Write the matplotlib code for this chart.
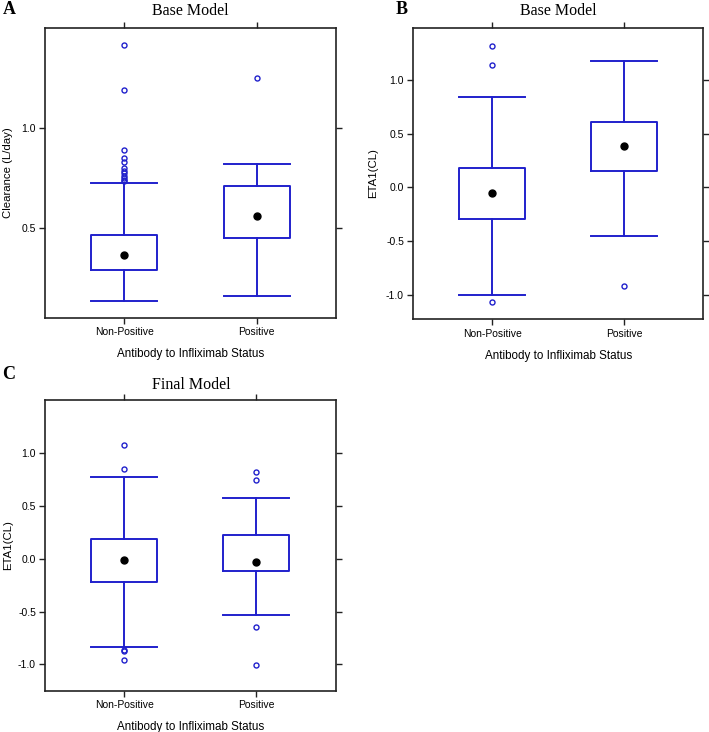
import matplotlib
matplotlib.use("Agg")
import matplotlib.pyplot as plt

W, H = 709, 732
categories = ["Non-Positive", "Positive"]

# Panel A: Clearance (L/day), base model
a_q1 = [0.285, 0.448]
a_q3 = [0.463, 0.707]
a_wlo = [0.133, 0.157]
a_whi = [0.724, 0.819]
a_mean = [0.363, 0.559]
a_fliers = [[1.417, 1.189, 0.891, 0.848, 0.83, 0.80, 0.785, 0.775, 0.76, 0.75, 0.74, 0.733],
            [1.251]]

# Panel B: ETA1(CL), base model
b_q1 = [-0.296, 0.155]
b_q3 = [0.183, 0.611]
b_wlo = [-1.0, -0.45]
b_whi = [0.84, 1.176]
b_mean = [-0.052, 0.382]
b_fliers = [[1.31, 1.133, -1.06], [-0.914]]

# Panel C: ETA1(CL), final model
c_q1 = [-0.222, -0.12]
c_q3 = [0.183, 0.224]
c_wlo = [-0.832, -0.532]
c_whi = [0.77, 0.572]
c_mean = [-0.009, -0.035]
c_fliers = [[1.073, 0.849, -0.86, -0.875, -0.957], [0.823, 0.744, -0.647, -1.009]]

BLUE = "#2020cc"
SANS = ["Liberation Sans", "DejaVu Sans"]
SERIF = ["Liberation Serif", "DejaVu Serif"]

fig = plt.figure(figsize=(W / 100, H / 100), dpi=100)


def add_axes_px(left, top, right, bottom):
    return fig.add_axes([left / W, 1 - bottom / H, (right - left) / W, (bottom - top) / H])


def panel(ax, q1, q3, wlo, whi, mean, fliers, ylim, yticks, ylabel, ylab_x_px, left_px, width_px):
    stats = []
    for i in range(len(categories)):
        stats.append(dict(med=mean[i], q1=q1[i], q3=q3[i], whislo=wlo[i], whishi=whi[i],
                          mean=mean[i], fliers=fliers[i], label=categories[i]))
    ax.bxp(stats, positions=[1, 2], widths=0.5, showmeans=True, showfliers=True,
           boxprops=dict(color=BLUE, linewidth=1.4),
           whiskerprops=dict(color=BLUE, linewidth=1.4),
           capprops=dict(color=BLUE, linewidth=1.4),
           capwidths=0.5,
           medianprops=dict(linewidth=0),
           meanprops=dict(marker="o", markerfacecolor="black", markeredgecolor="black",
                          markersize=5.0),
           flierprops=dict(marker="o", markerfacecolor="none", markeredgecolor=BLUE,
                           markersize=3.6, markeredgewidth=1.0))
    ax.set_xlim(0.4, 2.6)
    ax.set_ylim(*ylim)
    ax.set_yticks(yticks)
    ax.set_yticklabels([f"{v:.1f}" for v in yticks], fontfamily=SANS, fontsize=7.5)
    ax.set_xticks([1, 2])
    ax.set_xticklabels(categories, fontfamily=SANS, fontsize=7.5)
    ax.tick_params(axis="both", direction="out", length=4.5, width=1.0, color="#222222",
                   top=True, right=True, pad=2)
    ax.tick_params(axis="x", pad=2.5)
    for s in ax.spines.values():
        s.set_linewidth(1.2)
        s.set_color("#222222")
    ax.set_ylabel(ylabel, fontfamily=SANS, fontsize=8.2)
    ax.yaxis.label.set_va("center")
    ax.yaxis.set_label_coords((ylab_x_px - left_px) / width_px, 0.5)
    ax.set_xlabel("Antibody to Infliximab Status", fontfamily=SANS, fontsize=8.4, labelpad=8)


axA = add_axes_px(45, 28, 336, 317.5)
panel(axA, a_q1, a_q3, a_wlo, a_whi, a_mean, a_fliers, (0.048, 1.503), [0.5, 1.0],
      "Clearance (L/day)", 8.5, 45, 291)

axB = add_axes_px(413, 28, 703.5, 319)
panel(axB, b_q1, b_q3, b_wlo, b_whi, b_mean, b_fliers, (-1.22, 1.479),
      [-1.0, -0.5, 0.0, 0.5, 1.0], "ETA1(CL)", 373.5, 413, 290.5)

axC = add_axes_px(45, 400, 335.5, 690.5)
panel(axC, c_q1, c_q3, c_wlo, c_whi, c_mean, c_fliers, (-1.246, 1.502),
      [-1.0, -0.5, 0.0, 0.5, 1.0], "ETA1(CL)", 8.5, 45, 290.5)


def ftext(x, y, s, **kw):
    fig.text(x / W, 1 - y / H, s, ha="center", va="center", **kw)


ftext(190.5, 11, "Base Model", fontfamily=SERIF, fontsize=11.5)
ftext(558, 11, "Base Model", fontfamily=SERIF, fontsize=11.5)
ftext(191, 385, "Final Model", fontfamily=SERIF, fontsize=11.5)
ftext(9, 9, "A", fontfamily=SERIF, fontsize=13, fontweight="bold")
ftext(402, 9, "B", fontfamily=SERIF, fontsize=13, fontweight="bold")
ftext(9, 375, "C", fontfamily=SERIF, fontsize=13, fontweight="bold")

fig.savefig("out.png", dpi=100)
